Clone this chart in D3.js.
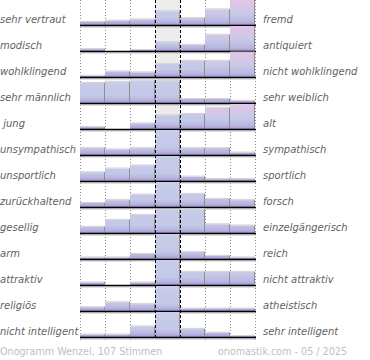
<!DOCTYPE html>
<html><head><meta charset="utf-8">
<script src="https://cdn.jsdelivr.net/npm/d3@7"></script>
<style>
html,body{margin:0;padding:0;background:#fff;}
svg{display:block;}
text{font-family:"DejaVu Sans",sans-serif;white-space:pre;}
</style></head>
<body>
<script>
// ---- data ----
const leftLabels = ["sehr vertraut","modisch","wohlklingend","sehr männlich"," jung","unsympathisch","unsportlich","zurückhaltend","gesellig","arm","attraktiv","religiös","nicht intelligent"];
const rightLabels = ["fremd","antiquiert","nicht wohlklingend","sehr weiblich","alt","sympathisch","sportlich","forsch","einzelgängerisch","reich","nicht attraktiv","atheistisch","sehr intelligent"];
const columns = [1,2,3,4,5,6,7];
// share of votes (%) per column (axis clipped at 40)
const sehrVertraut   = [5, 7, 9, 22, 11, 25, 40];
const modisch        = [3, 0, 1.5, 14, 10, 26, 40];
const wohlklingend   = [2, 9, 7.5, 21, 26, 26, 39];
const sehrMaennlich  = [32, 34, 36, 35, 6.5, 6.5, 3.5];
const jung           = [3, 0, 9, 22, 24, 34, 40];
const unsympathisch  = [11, 9, 11, 40, 11, 11, 4];
const unsportlich    = [14, 20, 25, 40, 7, 3, 3];
const zurueckhaltend = [6.5, 11, 20, 40, 21, 13, 11];
const gesellig       = [10, 21, 29, 37, 38, 14, 12];
const arm            = [2.5, 2.5, 8, 40, 11, 5, 2.5];
const attraktiv      = [4, 0, 4, 40, 21, 21, 21];
const religioes      = [6, 14, 11, 40, 4, 4, 4];
const nichtIntelligent = [4, 4, 17, 40, 13, 7, 1.5];
const seriesValues = [sehrVertraut, modisch, wohlklingend, sehrMaennlich, jung, unsympathisch, unsportlich, zurueckhaltend, gesellig, arm, attraktiv, religioes, nichtIntelligent];
const footerLeft = "Onogramm Wenzel, 107 Stimmen";
const footerRight = "onomastik.com - 05 / 2025";

// ---- chart ----
const W = 370, H = 360;
const svg = d3.select("body").append("svg").attr("width", W).attr("height", H);
const defs = svg.append("defs");

const x = d3.scaleBand().domain(columns).range([80, 255]).padding(0);
const yRow = d3.scaleLinear().domain([0, leftLabels.length - 1]).range([25, 337]);
const h = d3.scaleLinear().domain([0, 40]).range([0, 25]).clamp(true);

function grad(id, stops) {
  const g = defs.append("linearGradient").attr("id", id)
    .attr("gradientUnits", "userSpaceOnUse")
    .attr("x1", 0).attr("x2", 0).attr("y1", -25).attr("y2", 0);
  stops.forEach(s => g.append("stop").attr("offset", s[0]).attr("stop-color", s[1]));
}
grad("gBlue", [[0, "#c8cdea"], [0.7, "#c4c8e8"], [0.86, "#b9b6e0"], [0.94, "#ada6d8"], [1, "#968bc6"]]);
grad("gPink", [[0, "#e2c6e4"], [0.3, "#d6c6e6"], [0.55, "#c8c9e8"], [0.86, "#b9b6e0"], [0.94, "#ada6d8"], [1, "#968bc6"]]);

const yTop = 0, yBot = 340;
const mid = columns[3];
// middle column background
svg.append("rect").attr("x", x(mid)).attr("y", yTop).attr("width", x.bandwidth()).attr("height", yBot - yTop).attr("fill", "#ececec");

// dotted grid lines
const gridX = [x(1), x(2), x(3), x(6), x(7), x(7) + x.bandwidth()];
svg.append("g").selectAll("line").data(gridX).join("line")
  .attr("x1", d => d + 0.5).attr("x2", d => d + 0.5).attr("y1", yTop).attr("y2", yBot)
  .attr("stroke", "#8a8a8a").attr("stroke-width", 1).attr("stroke-dasharray", "1,2");

// rows
const rows = svg.append("g").selectAll("g").data(seriesValues).join("g")
  .attr("transform", (d, i) => `translate(0,${yRow(i)})`);

rows.each(function(vals) {
  const g = d3.select(this);
  const data = vals.map((v, j) => ({ c: columns[j], v }));
  const bars = g.selectAll("g.bar").data(data.filter(d => d.v > 0)).join("g").attr("class", "bar");
  bars.append("rect")
    .attr("x", d => x(d.c)).attr("y", d => -h(d.v))
    .attr("width", x.bandwidth()).attr("height", d => h(d.v))
    .attr("fill", d => d.c >= 6 ? "url(#gPink)" : "url(#gBlue)");
  bars.filter(d => h(d.v) < 24.5).append("line")
    .attr("x1", d => x(d.c)).attr("x2", d => x(d.c) + x.bandwidth())
    .attr("y1", d => -h(d.v) - 0.5).attr("y2", d => -h(d.v) - 0.5)
    .attr("stroke", "#d2d2d2").attr("stroke-width", 1);
  bars.append("line")
    .attr("x1", d => x(d.c) + x.bandwidth() - 0.5).attr("x2", d => x(d.c) + x.bandwidth() - 0.5)
    .attr("y1", d => -h(d.v)).attr("y2", 0)
    .attr("stroke", "#8f8f8f").attr("stroke-width", 1);
});

// middle dashed lines
svg.append("g").selectAll("line").data([x(mid), x(mid) + x.bandwidth()]).join("line")
  .attr("x1", d => d + 0.5).attr("x2", d => d + 0.5).attr("y1", yTop).attr("y2", yBot - 2)
  .attr("stroke", "#000").attr("stroke-width", 1).attr("stroke-dasharray", "3,2");

// baselines
rows.append("line").attr("x1", 80).attr("x2", 256).attr("y1", 2).attr("y2", 2)
  .attr("stroke", "#c4c4c4").attr("stroke-width", 1);
rows.append("line").attr("x1", 80).attr("x2", 256).attr("y1", 0.5).attr("y2", 0.5)
  .attr("stroke", "#000").attr("stroke-width", 1.6);

// labels
rows.append("text").attr("x", 0).attr("y", -2)
  .attr("font-size", 10).attr("font-style", "italic").attr("fill", "#626262")
  .text((d, i) => leftLabels[i]);
rows.append("text").attr("x", 263).attr("y", -2)
  .attr("font-size", 10).attr("font-style", "italic").attr("fill", "#626262")
  .text((d, i) => rightLabels[i]);

// footer
svg.append("text").attr("x", 0).attr("y", 355).attr("font-size", 9.6).attr("fill", "#c0c0c0").text(footerLeft);
svg.append("text").attr("x", 347).attr("y", 355).attr("text-anchor", "end").attr("font-size", 9.6).attr("fill", "#c0c0c0").text(footerRight);
</script>
</body></html>
